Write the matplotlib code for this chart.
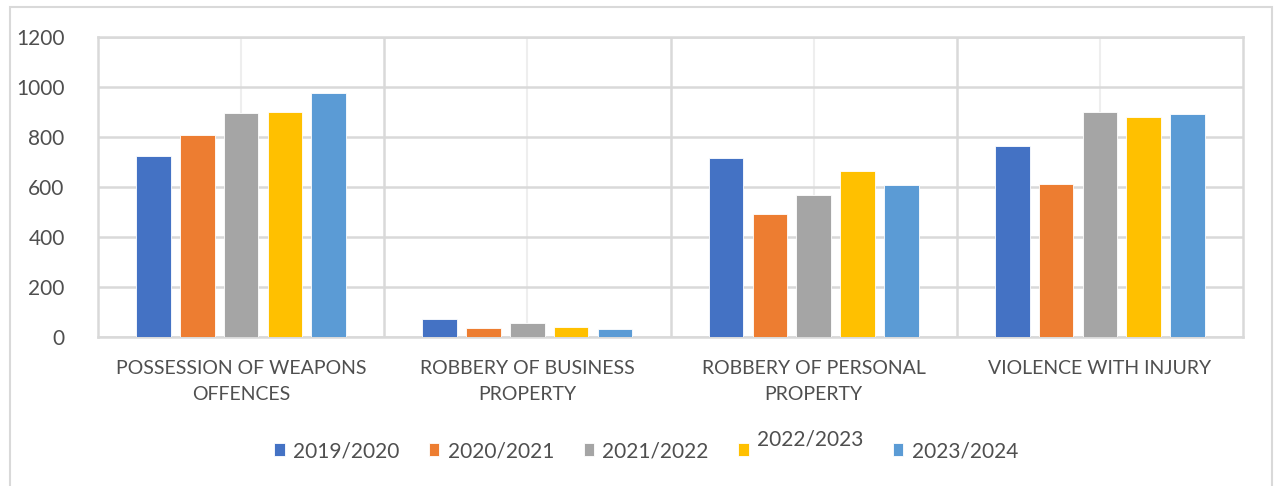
import numpy as np
import matplotlib
matplotlib.use('Agg')
import matplotlib.pyplot as plt
import matplotlib.transforms as mtransforms
from matplotlib.patches import Rectangle

plt.rcParams['font.family'] = ['Lato', 'DejaVu Sans']

# Delitos por tipo y año
categorias = ['POSSESSION OF WEAPONS\nOFFENCES', 'ROBBERY OF BUSINESS\nPROPERTY',
              'ROBBERY OF PERSONAL\nPROPERTY', 'VIOLENCE WITH INJURY']
periodos = ['2019/2020', '2020/2021', '2021/2022', '2022/2023', '2023/2024']
v2019 = [724, 70, 716, 765]
v2020 = [806, 33, 491, 610]
v2021 = [897, 55, 565, 899]
v2022 = [901, 37, 663, 879]
v2023 = [975, 29, 607, 891]
y_ticks = [0, 200, 400, 600, 800, 1000, 1200]

series = [v2019, v2020, v2021, v2022, v2023]
colores = ['#4472C4', '#ED7D31', '#A5A5A5', '#FFC000', '#5B9BD5']
gris_texto = '#4f4f4f'

fig = plt.figure(figsize=(12.77, 4.86), dpi=100)
ax = fig.add_axes([98/1277, 1 - 336.5/486, (1243 - 98)/1277, (336.5 - 37)/486])

x = np.arange(len(categorias))
paso, ancho = 0.153, 0.121
for i, (vals, col, lab) in enumerate(zip(series, colores, periodos)):
    ax.bar(x + (i - 2) * paso, vals, width=ancho, color=col, label=lab,
           edgecolor='white', linewidth=0.6, zorder=3)

ax.set_xlim(-0.5, len(categorias) - 0.5)
ax.set_ylim(0, 1200)
ax.set_yticks(y_ticks)
ax.set_xticks(x)
ax.set_xticklabels(categorias, fontsize=14, color=gris_texto, linespacing=1.65)
ax.set_xticks(x[:-1] + 0.5, minor=True)
ax.tick_params(axis='both', which='both', length=0)
ax.tick_params(axis='y', labelsize=15, labelcolor=gris_texto, pad=24)
ax.tick_params(axis='x', pad=17)

# rejilla: líneas entre categorías más marcadas que las centrales
ax.grid(axis='y', color='#d9d9d9', linewidth=1.8, zorder=0)
ax.grid(axis='x', which='major', color='#eeeeee', linewidth=1.5, zorder=0)
ax.grid(axis='x', which='minor', color='#d9d9d9', linewidth=1.8, zorder=0)
for s in ax.spines.values():
    s.set_color('#d9d9d9')
    s.set_linewidth(1.8)

leg = ax.legend(loc='center', bbox_to_anchor=(0.506, 0.072), bbox_transform=fig.transFigure,
                ncol=5, frameon=False, fontsize=15, handlelength=0.5, handleheight=0.6,
                handletextpad=0.4, columnspacing=1.42, borderpad=0)
for t in leg.get_texts():
    t.set_color(gris_texto)
# la etiqueta 2022/2023 va algo más arriba
t4 = leg.get_texts()[3]
t4.set_transform(t4.get_transform() + mtransforms.Affine2D().translate(0, 12))

# marco exterior del gráfico
fig.patches.append(Rectangle((10/1277, -0.05), (1272 - 10)/1277, 1.05 - 7/486,
                             transform=fig.transFigure, fill=False,
                             edgecolor='#d9d9d9', linewidth=1.5))

fig.savefig('out.png', dpi=100, facecolor='white')
